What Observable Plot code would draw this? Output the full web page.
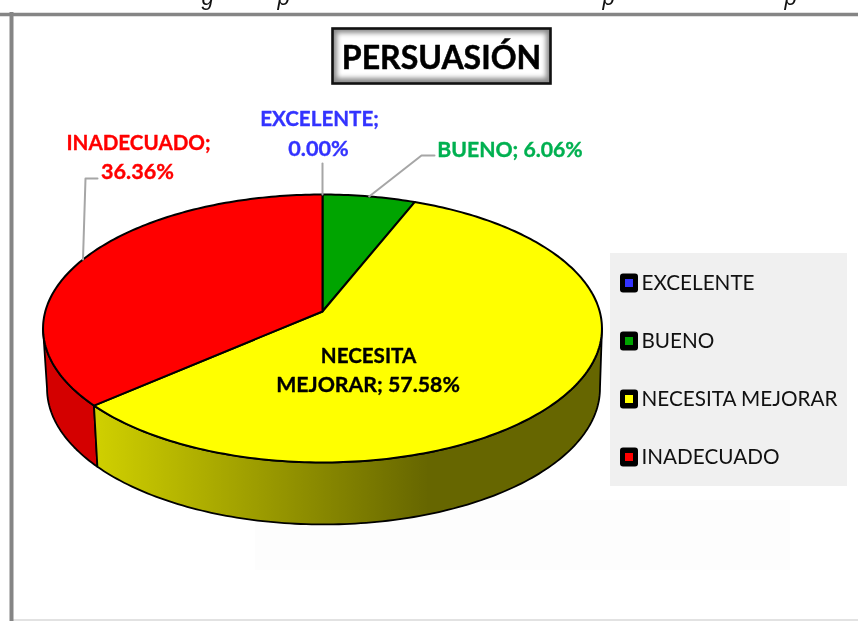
<!DOCTYPE html>
<html><head><meta charset="utf-8">
<style>html,body{margin:0;padding:0;background:#fff;overflow:hidden}svg{display:block}</style>
<script src="https://cdn.jsdelivr.net/npm/d3@7"></script>
<script src="https://cdn.jsdelivr.net/npm/@observablehq/plot@0.6"></script>
</head><body><div id="chart"></div>
<script>
const categories = ["EXCELENTE", "BUENO", "NECESITA MEJORAR", "INADECUADO"];
const values = [0.00, 6.06, 57.58, 36.36];
const sliceColors = ["#3333ff", "#00a400", "#ffff00", "#ff0000"];
const labelColors = ["#3333ff", "#00b050", "#000000", "#ff0000"];
const title = "PERSUASIÓN";
const FONT = "Lato, Carlito, sans-serif";

// pie layout (perspective-projected disc)
const cx = 322, apexY = 311, R = 277.2, S = 131.8, k = 0.1269;
const rad = d => d * Math.PI / 180;
const topPt = a => {
  const w = 1 + k * Math.cos(rad(a));
  return [cx + R * Math.sin(rad(a)) / w, apexY - S * Math.cos(rad(a)) / w];
};
const botPt = a => {
  const [x, y] = topPt(a);
  return [323 + (x - cx) * 277 / 280, 388 + (y - 328) * 136 / 134];
};
const arcAngles = (a0, a1) => {
  const n = Math.max(1, Math.ceil(Math.abs(a1 - a0)));
  return d3.range(n + 1).map(i => a0 + (a1 - a0) * i / n);
};
let acc = 0;
const slices = categories.map((c, i) => {
  const a0 = acc * 3.6; acc += values[i];
  return {c, a0, a1: acc * 3.6, color: sliceColors[i]};
});
const topFace = slices.filter(s => s.a1 > s.a0).flatMap(s =>
  [[cx, apexY], ...arcAngles(s.a0, s.a1).map(topPt), [cx, apexY]].map(p => ({c: s.c, color: s.color, x: p[0], y: p[1]})));

const edgeR = 180 - 82.71, edgeL = 180 + 82.71; // silhouette angles for k
const wall = (a0, a1, name) => [...arcAngles(a0, a1).map(topPt), ...arcAngles(a1, a0).map(botPt)]
  .map(p => ({c: name, x: p[0], y: p[1]}));
const boundary = slices[2].a1;
const yellowWall = wall(edgeR, boundary, "y");
const redWall = wall(boundary, edgeL, "r");
yellowWall.push(yellowWall[0]); redWall.push(redWall[0]);

const XY = {x: "x", y: "y"};
// legend
const legendY = categories.map((c, i) => 283 + 58 * i);
const legendRows = categories.map((c, i) => ({c, y: legendY[i], color: sliceColors[i]}));

// leader lines: start at mid-slice rim, end at the label
const mid = i => (slices[i].a0 + slices[i].a1) / 2;
const leaders = [
  [topPt(mid(0)), [322, 163]],
  [topPt(mid(1)), [421, 155], [434, 155]],
  [topPt(mid(3)), [85, 178], [97, 178]]
].flatMap((pts, j) => pts.map(p => ({j, x: p[0], y: p[1]})));

const labelRows = [
  {t: `${categories[0]};`, x: 319, y: 119, i: 0, s: 20.6},
  {t: `${values[0].toFixed(2)}%`, x: 318, y: 149, i: 0, s: 21.6},
  {t: `${categories[1]}; ${values[1].toFixed(2)}%`, x: 509.5, y: 150, i: 1, s: 21.2},
  {t: "NECESITA", x: 368, y: 356, i: 2, s: 20.6},
  {t: `MEJORAR; ${values[2].toFixed(2)}%`, x: 367.5, y: 385, i: 2, s: 21.3},
  {t: `${categories[3]};`, x: 138, y: 143, i: 3, s: 20.6},
  {t: `${values[3].toFixed(2)}%`, x: 137, y: 172, i: 3, s: 21.6}
];
const clipped = [{t: "g", x: 207}, {t: "p", x: 283}, {t: "p", x: 608}, {t: "p", x: 790}];

const defs = () => {
  const d = d3.create("svg:defs");
  const g = d.append("linearGradient").attr("id", "yw").attr("gradientUnits", "userSpaceOnUse")
    .attr("x1", 98).attr("x2", 428).attr("y1", 0).attr("y2", 0);
  g.append("stop").attr("offset", 0).attr("stop-color", "#cfcf00");
  g.append("stop").attr("offset", 1).attr("stop-color", "#666600");
  return d.node();
};

const labelMark = s => Plot.text(labelRows.filter(d => d.s === s), {x: "x", y: "y", text: "t", fontWeight: 700, fontSize: s, fontFamily: FONT, fill: d => labelColors[d.i], stroke: d => labelColors[d.i], strokeWidth: 0.35});

const chart = Plot.plot({
  width: 858, height: 621,
  marginTop: 0, marginRight: 0, marginBottom: 0, marginLeft: 0,
  x: {domain: [0, 858], range: [0, 858], axis: null},
  y: {domain: [0, 621], range: [0, 621], axis: null},
  style: {background: "#fff", fontFamily: FONT, filter: "blur(0.45px)"},
  marks: [
    defs,
    // clipped caption remnants above the frame
    Plot.text(clipped, {x: "x", y: () => -3, text: "t", fontFamily: "Liberation Sans", fontStyle: "italic", fontSize: 22, fill: "#111"}),
    // faint ghost patches
    Plot.rect([0], {x1: () => 255, x2: () => 790, y1: () => 500, y2: () => 570, fill: "#fdfdfd"}),
    // frame
    Plot.ruleY([14], {x1: 0, x2: 858, stroke: "#858585", strokeWidth: 3.5}),
    Plot.ruleY([619.5], {x1: 11, x2: 858, stroke: "#d8d8d8", strokeWidth: 1.5}),
    Plot.ruleX([11], {y1: 12, y2: 621, stroke: "#858585", strokeWidth: 4}),
    // title box
    Plot.rect([0], {x1: () => 332, x2: () => 551, y1: () => 28, y2: () => 84, fill: "#8c8c8c"}),
    Plot.rect([0], {x1: () => 337, x2: () => 546, y1: () => 33, y2: () => 78, fill: "#fff", imageFilter: "blur(2.5px)"}),
    Plot.rect([0], {x1: () => 332.5, x2: () => 550.5, y1: () => 28.5, y2: () => 83.5, fill: "none", stroke: "#111", strokeWidth: 2.6}),
    Plot.text([title], {x: () => 441, y: () => 58, text: d => d, fontWeight: 700, fontSize: 32, fill: "#000", stroke: "#000", strokeWidth: 0.5, fontFamily: FONT}),
    // pie side walls
    Plot.line(redWall, {...XY, fill: "#d40000", stroke: "#000", strokeWidth: 1.8, strokeLinejoin: "round"}),
    Plot.line(yellowWall, {...XY, fill: "url(#yw)", stroke: "#000", strokeWidth: 1.8, strokeLinejoin: "round"}),
    // pie top face
    ...slices.filter(s => s.a1 > s.a0).map(s =>
      Plot.line(topFace.filter(d => d.c === s.c), {...XY, fill: s.color, stroke: "#000", strokeWidth: 2, strokeLinejoin: "round"})),
    // leaders
    Plot.line(leaders, {...XY, z: "j", stroke: "#a6a6a6", strokeWidth: 2}),
    // data labels
    ...[...new Set(labelRows.map(d => d.s))].map(labelMark),
    // legend
    Plot.rect([0], {x1: () => 610, x2: () => 847, y1: () => 253, y2: () => 486, fill: "#f0f0f0"}),
    Plot.rect(legendRows, {x1: () => 620, x2: () => 638, y1: d => d.y - 9.5, y2: d => d.y + 9.5, fill: "#000", rx: 3}),
    Plot.rect(legendRows, {x1: () => 625, x2: () => 633, y1: d => d.y - 4, y2: d => d.y + 4, fill: d => d.color}),
    Plot.text(legendRows, {x: () => 641, y: "y", text: "c", textAnchor: "start", fontSize: 20.7, fill: "#111", fontFamily: FONT})
  ]
});
document.getElementById("chart").append(chart);
</script></body></html>
